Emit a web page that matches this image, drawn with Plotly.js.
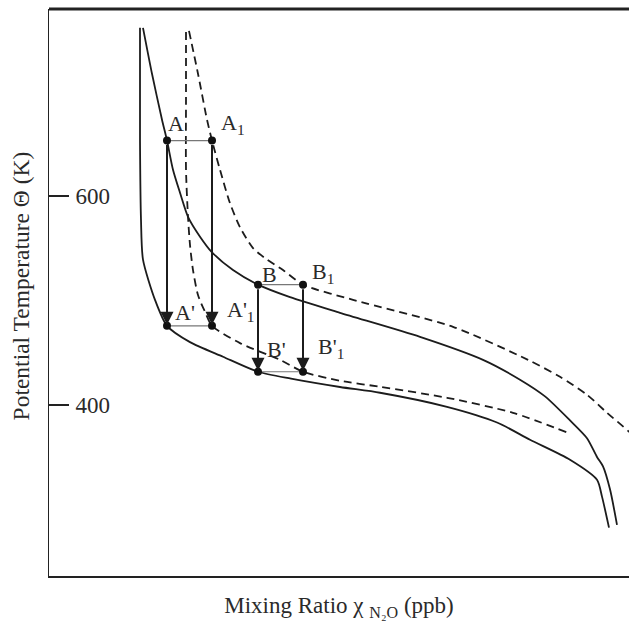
<!DOCTYPE html>
<html>
<head>
<meta charset="utf-8">
<script src="https://cdn.plot.ly/plotly-3.0.1.min.js"></script>
<style>html,body{margin:0;padding:0;background:#fff;}#chart{width:629px;height:625px;}</style>
</head>
<body>
<div id="chart"></div>
<script>
// Mixing ratio (arbitrary ppb scale) and potential temperature (K)
const solidUpperX = [94, 103, 113, 118, 124, 131, 139, 151, 163, 184, 209, 241, 291, 371, 434, 471, 496, 521, 538, 548, 554, 561, 568];
const solidUpperK = [761, 717, 673, 653, 625, 603, 580, 561, 546, 529, 515, 503, 488, 465, 443, 424, 408, 385, 368, 350, 341, 319, 285];

const solidLowerX = [91, 91, 92, 94, 106, 118, 141, 174, 209, 242, 291, 331, 398, 448, 481, 521, 548, 553, 560];
const solidLowerK = [761, 653, 577, 539, 500.5, 475.6, 460, 446, 431.6, 425, 417, 411.5, 398, 383, 366.5, 347.4, 328.2, 312, 282.3];

const dashUpperX = [140, 149, 158, 163, 171, 181, 191, 204, 218, 234, 254, 304, 404, 479, 511, 538, 558, 580, 591];
const dashUpperK = [758, 717, 673, 653, 625, 593, 570, 550, 539, 529, 515, 500.5, 474.6, 443, 426.8, 409.6, 392.3, 374.2, 362.7];

const dashLowerX = [137, 137, 137, 139, 141, 144, 149, 156, 163, 191, 231, 254, 291, 331, 398, 464, 519];
const dashLowerK = [757, 692, 625, 580, 553, 529, 505, 489, 475.6, 459, 443, 431.6, 423, 417.2, 406.7, 392.3, 373.2];

// Points: initial (A, A1, B, B1) and final (A', A1', B', B1')
const pointNames = ["A", "A<sub>1</sub>", "B", "B<sub>1</sub>"];
const primeNames = ["A'", "A'<sub>1</sub>", "B'", "B'<sub>1</sub>"];
const startX = [118, 163, 209, 254];
const startK = [653, 653, 515, 515];
const endX = [118, 163, 209, 254];
const endK = [475.6, 475.6, 431.6, 431.6];

const yTicks = [400, 600];
const yTickText = ["400", "600"];
const xTitle = "Mixing Ratio χ <sub>N₂O</sub> (ppb)";
const yTitle = "Potential Temperature Θ (K)";

const lineCol = "#1c1c1c";
const txtCol = "#2a2a2a";
const fontFam = "Liberation Serif, Times New Roman, serif";
const sm = 0.7;

const traces = [
  {x: solidUpperX, y: solidUpperK, mode: "lines", line: {color: lineCol, width: 1.8, shape: "spline", smoothing: sm}, hoverinfo: "skip"},
  {x: solidLowerX, y: solidLowerK, mode: "lines", line: {color: lineCol, width: 1.8, shape: "spline", smoothing: sm}, hoverinfo: "skip"},
  {x: dashUpperX, y: dashUpperK, mode: "lines", line: {color: lineCol, width: 1.8, dash: "8px,5px", shape: "spline", smoothing: sm}, hoverinfo: "skip"},
  {x: dashLowerX, y: dashLowerK, mode: "lines", line: {color: lineCol, width: 1.8, dash: "8px,5px", shape: "spline", smoothing: sm}, hoverinfo: "skip"},
  // horizontal connectors
  {x: [startX[0], startX[1]], y: [startK[0], startK[1]], mode: "lines", line: {color: "#777", width: 1.2}},
  {x: [startX[2], startX[3]], y: [startK[2], startK[3]], mode: "lines", line: {color: "#777", width: 1.2}},
  {x: [endX[0], endX[1]], y: [endK[0], endK[1]], mode: "lines", line: {color: "#777", width: 1.2}},
  {x: [endX[2], endX[3]], y: [endK[2], endK[3]], mode: "lines", line: {color: "#777", width: 1.2}},
  {x: startX.concat(endX), y: startK.concat(endK), mode: "markers", marker: {color: "#111", size: 8}}
];

const annotations = [];
for (let i = 0; i < 4; i++) {
  annotations.push({
    x: endX[i], y: endK[i], ax: startX[i], ay: startK[i],
    xref: "x", yref: "y", axref: "x", ayref: "y",
    text: "", showarrow: true, arrowhead: 2, arrowsize: 1.3, arrowwidth: 2,
    arrowcolor: lineCol, standoff: 1, startstandoff: 3
  });
}
const labShiftStart = [[-1, 3], [7, 1], [2, -4], [7, -4]];
const labShiftEnd = [[6, -1], [13, -1], [7, 8], [13, 8]];
for (let i = 0; i < 4; i++) {
  annotations.push({x: startX[i], y: startK[i], xref: "x", yref: "y", text: pointNames[i], showarrow: false,
    xanchor: "left", yanchor: "bottom", xshift: labShiftStart[i][0], yshift: labShiftStart[i][1],
    font: {family: fontFam, size: 22, color: txtCol}});
  annotations.push({x: endX[i], y: endK[i], xref: "x", yref: "y", text: primeNames[i], showarrow: false,
    xanchor: "left", yanchor: "bottom", xshift: labShiftEnd[i][0], yshift: labShiftEnd[i][1],
    font: {family: fontFam, size: 22, color: txtCol}});
}
// y-axis title
annotations.push({xref: "paper", yref: "paper", x: -0.048, y: 0.511, xanchor: "center", yanchor: "middle",
  text: yTitle, textangle: -90, showarrow: false, font: {family: fontFam, size: 23.5, color: txtCol}});

const layout = {
  width: 629, height: 625,
  margin: {l: 49, r: 0, t: 9, b: 49},
  paper_bgcolor: "#fff", plot_bgcolor: "#fff",
  showlegend: false,
  font: {family: fontFam, size: 22, color: txtCol},
  xaxis: {
    range: [0, 580], showline: true, linecolor: "#222", linewidth: 1.5,
    showticklabels: false, ticks: "", showgrid: false, zeroline: false, fixedrange: true,
    automargin: true,
    title: {text: xTitle, font: {family: fontFam, size: 23, color: txtCol}, standoff: 20}
  },
  yaxis: {
    range: [236, 779], showline: true, linecolor: "#222", linewidth: 1.5,
    tickvals: yTicks, ticktext: yTickText, ticks: "inside", ticklen: 20, tickwidth: 1.5, tickcolor: "#222",
    ticklabelposition: "inside", ticklabelstandoff: 8, tickfont: {family: fontFam, size: 23, color: txtCol},
    showgrid: false, zeroline: false, fixedrange: true
  },
  shapes: [
    {type: "line", xref: "paper", yref: "paper", x0: 0, x1: 1, y0: 1, y1: 1, line: {color: "#222", width: 3}}
  ],
  annotations: annotations
};

Plotly.newPlot("chart", traces, layout, {displayModeBar: false, staticPlot: true});
</script>
</body>
</html>
